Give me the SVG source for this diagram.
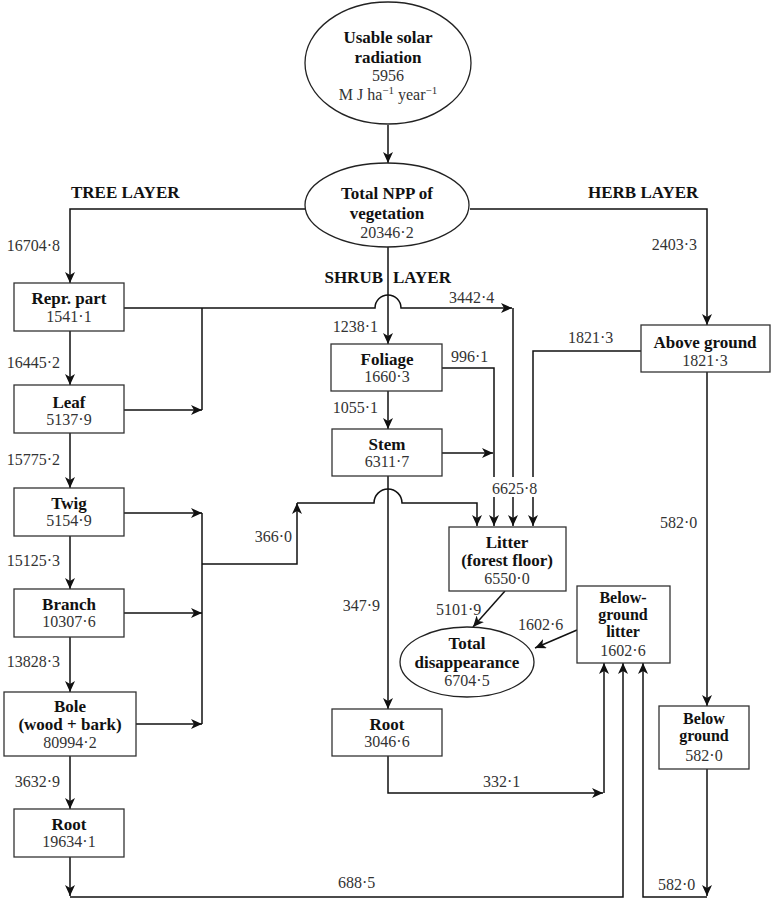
<svg xmlns="http://www.w3.org/2000/svg" width="772" height="900" viewBox="0 0 772 900">
<style>
.bx{fill:#fff;stroke:#333;stroke-width:1.3}
.el{fill:#fff;stroke:#222;stroke-width:1.3}
.b{font-family:"Liberation Serif","Times New Roman",serif;font-weight:bold;font-size:17px;fill:#111;text-anchor:middle}
.s{font-size:16px}
.n{font-family:"Liberation Serif","Times New Roman",serif;font-size:16px;fill:#333;text-anchor:middle}
.l{font-family:"Liberation Serif","Times New Roman",serif;font-size:16px;fill:#333}
.r{text-anchor:end}
.h{font-family:"Liberation Serif","Times New Roman",serif;font-weight:bold;font-size:17px;fill:#111}
.c{fill:none;stroke:#111;stroke-width:1.5}
.a{marker-end:url(#ar)}
</style>
<defs>
<marker id="ar" markerUnits="userSpaceOnUse" markerWidth="12" markerHeight="10" refX="11" refY="5" orient="auto">
<path d="M0,0 L11,5 L0,10 L3,5 z" fill="#111"/>
</marker>
</defs>
<g id="connectors">
<path class="c a" d="M388,125 V163"/>
<path class="c a" d="M305,209 H70 V283"/>
<path class="c a" d="M470,209 H707 V325"/>
<path class="c a" d="M388,247 V344"/>
<path class="c a" d="M124,308 H375 A13,13 0 0 1 401,308 H512"/>
<path class="c" d="M513,308 V477"/>
<path class="c a" d="M513,497 V526"/>
<path class="c" d="M202,308 V410"/>
<path class="c a" d="M70,331 V385"/>
<path class="c a" d="M124,410 H202"/>
<path class="c a" d="M70,433 V488"/>
<path class="c a" d="M124,513 H202"/>
<path class="c a" d="M70,536 V589"/>
<path class="c a" d="M124,613 H202"/>
<path class="c a" d="M70,637 V692"/>
<path class="c a" d="M136,724 H202"/>
<path class="c" d="M202,513 V724"/>
<path class="c a" d="M202,564 H297 V503"/>
<path class="c a" d="M297,503 H374 A14,14 0 0 1 402,503 H477 V526"/>
<path class="c a" d="M70,756 V809"/>
<path class="c a" d="M70,857 V896"/>
<path class="c a" d="M70,897 H623 V663"/>
<path class="c a" d="M388,391 V429"/>
<path class="c" d="M442,368 H494 V477"/>
<path class="c a" d="M494,497 V526"/>
<path class="c a" d="M442,453 H493"/>
<path class="c a" d="M388,476 V709"/>
<path class="c a" d="M388,756 V793 H603"/>
<path class="c a" d="M604,793 V663"/>
<path class="c" d="M641,351 H533 V477"/>
<path class="c a" d="M533,497 V526"/>
<path class="c a" d="M707,372 V706"/>
<path class="c a" d="M707,769 V896"/>
<path class="c a" d="M707,897 H643 V663"/>
<path class="c a" d="M505,591 L473,627"/>
<path class="c a" d="M577,630 L535,648"/>
</g>
<g id="labels">
<text class="h" x="71" y="198">TREE LAYER</text>
<text class="h" x="588" y="198">HERB LAYER</text>
<text class="h r" x="383" y="283" text-anchor="end">SHRUB</text>
<text class="h" x="393" y="283">LAYER</text>
<text class="l r" x="60" y="251">16704·8</text>
<text class="l r" x="60" y="368">16445·2</text>
<text class="l r" x="60" y="465">15775·2</text>
<text class="l r" x="60" y="566">15125·3</text>
<text class="l r" x="60" y="667">13828·3</text>
<text class="l r" x="60" y="787">3632·9</text>
<text class="l r" x="292" y="542">366·0</text>
<text class="l" x="338" y="888">688·5</text>
<text class="l r" x="697" y="250">2403·3</text>
<text class="l" x="449" y="303">3442·4</text>
<text class="l r" x="378" y="332">1238·1</text>
<text class="l" x="451" y="362">996·1</text>
<text class="l r" x="378" y="413">1055·1</text>
<text class="l" x="492" y="494">6625·8</text>
<text class="l" x="568" y="343">1821·3</text>
<text class="l r" x="380" y="611">347·9</text>
<text class="l" x="436" y="615">5101·9</text>
<text class="l" x="518" y="630">1602·6</text>
<text class="l" x="483" y="787">332·1</text>
<text class="l" x="660" y="528">582·0</text>
<text class="l" x="658" y="890">582·0</text>
</g>
<g id="solar">
<ellipse class="el" cx="388" cy="63" rx="83" ry="61"/>
<text class="b" x="388" y="43">Usable solar</text>
<text class="b" x="388" y="63">radiation</text>
<text class="n" x="388" y="81">5956</text>
<text class="n" x="388" y="100">M J ha<tspan font-size="11" dy="-6">−1</tspan><tspan dy="6"> year</tspan><tspan font-size="11" dy="-6">−1</tspan></text>
</g>
<g id="npp">
<ellipse class="el" cx="387" cy="205" rx="82" ry="42"/>
<text class="b" x="387" y="199">Total NPP of</text>
<text class="b" x="387" y="219">vegetation</text>
<text class="n" x="387" y="238">20346·2</text>
</g>
<g id="repr">
<rect class="bx" x="14" y="283" width="110" height="48"/>
<text class="b" x="69" y="304">Repr. part</text>
<text class="n" x="69" y="322">1541·1</text>
</g>
<g id="leaf">
<rect class="bx" x="14" y="385" width="110" height="48"/>
<text class="b" x="69" y="408">Leaf</text>
<text class="n" x="69" y="425">5137·9</text>
</g>
<g id="twig">
<rect class="bx" x="14" y="488" width="110" height="48"/>
<text class="b" x="69" y="509">Twig</text>
<text class="n" x="69" y="526">5154·9</text>
</g>
<g id="branch">
<rect class="bx" x="14" y="589" width="110" height="48"/>
<text class="b" x="69" y="610">Branch</text>
<text class="n" x="69" y="627">10307·6</text>
</g>
<g id="bole">
<rect class="bx" x="4" y="692" width="132" height="64"/>
<text class="b" x="70" y="712">Bole</text>
<text class="b" x="70" y="730">(wood + bark)</text>
<text class="n" x="70" y="748">80994·2</text>
</g>
<g id="treeroot">
<rect class="bx" x="14" y="809" width="110" height="48"/>
<text class="b" x="69" y="830">Root</text>
<text class="n" x="69" y="847">19634·1</text>
</g>
<g id="foliage">
<rect class="bx" x="331" y="344" width="111" height="47"/>
<text class="b" x="387" y="365">Foliage</text>
<text class="n" x="387" y="382">1660·3</text>
</g>
<g id="stem">
<rect class="bx" x="332" y="429" width="110" height="47"/>
<text class="b" x="387" y="450">Stem</text>
<text class="n" x="387" y="467">6311·7</text>
</g>
<g id="shrubroot">
<rect class="bx" x="332" y="709" width="110" height="47"/>
<text class="b" x="387" y="730">Root</text>
<text class="n" x="387" y="747">3046·6</text>
</g>
<g id="litter">
<rect class="bx" x="449" y="527" width="117" height="64"/>
<text class="b" x="507" y="548">Litter</text>
<text class="b" x="507" y="566">(forest floor)</text>
<text class="n" x="507" y="584">6550·0</text>
</g>
<g id="disappearance">
<ellipse class="el" cx="467" cy="662" rx="67" ry="35"/>
<text class="b" x="467" y="649">Total</text>
<text class="b" x="467" y="668">disappearance</text>
<text class="n" x="467" y="686">6704·5</text>
</g>
<g id="bglitter">
<rect class="bx" x="577" y="586" width="93" height="77"/>
<text class="b s" x="623" y="603">Below-</text>
<text class="b s" x="623" y="620">ground</text>
<text class="b s" x="623" y="637">litter</text>
<text class="n" x="623" y="656">1602·6</text>
</g>
<g id="aboveground">
<rect class="bx" x="641" y="325" width="129" height="47"/>
<text class="b" x="705" y="348">Above ground</text>
<text class="n" x="705" y="366">1821·3</text>
</g>
<g id="belowground">
<rect class="bx" x="659" y="706" width="90" height="63"/>
<text class="b s" x="704" y="724">Below</text>
<text class="b s" x="704" y="741">ground</text>
<text class="n" x="704" y="761">582·0</text>
</g>
</svg>
